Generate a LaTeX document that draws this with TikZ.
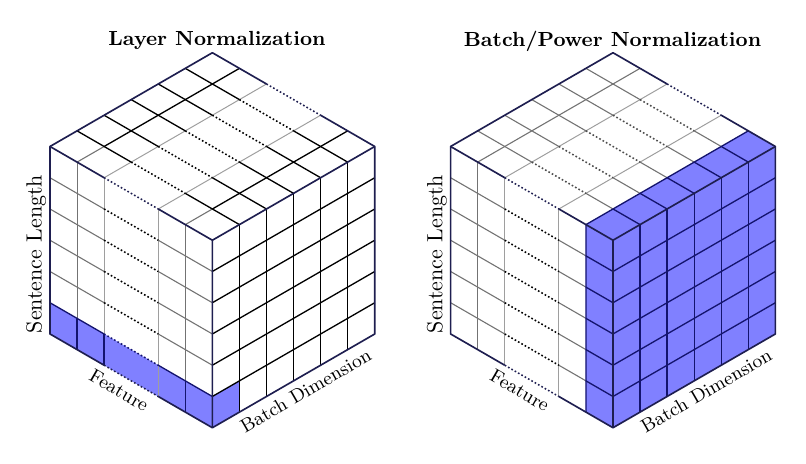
\documentclass[tikz,border=0pt]{standalone}
\usepackage{tikz}
\definecolor{cubenavy}{RGB}{30,30,80}
\definecolor{cellblue}{RGB}{128,128,255}
\definecolor{bluenavy}{RGB}{20,20,110}

\def \nbcells {6}
\def \titleleft {Layer Normalization}
\def \titleright {Batch/Power Normalization}

\begin{document}
\begin{tikzpicture}
   [x={(0.433cm,-0.25cm)}, y={(0.433cm,0.25cm)}, z={(0cm,0.5cm)},
   title/.style={font=\fontsize{9.3}{11}\selectfont\bfseries, anchor=base},
   axis/.style={font=\fontsize{8.7}{10}\selectfont},
   side/.style={font=\normalsize, rotate=90, anchor=south, inner sep=1.5pt},
   edge/.style={draw=cubenavy, line width=0.75pt, line join=round},
   grid/.style={line width=0.6pt},
   light/.style={draw=black!38, line width=0.45pt},
   mid/.style={draw=black!55, line width=0.5pt},
   dots/.style={dash pattern=on 0.75pt off 1pt, line width=0.7pt},
   hilite/.style={fill=cellblue, draw=none}]

\useasboundingbox (0cm,0cm) rectangle (12.896cm,7.424cm);

\node[title] (titleL) at (3.472cm,6.693cm) {\titleleft};
\node[title] (titleR) at (9.8cm,6.68cm) {\titleright};

% layer normalization cube
\begin{scope}[shift={(0.8cm,2.08cm)}]
\fill[hilite] (0,0,0) -- (6,0,0) -- (6,0,1) -- (0,0,1) -- cycle;
\fill[hilite] (6,0,0) -- (6,1,0) -- (6,1,1) -- (6,0,1) -- cycle;

\foreach \f in {1,5} \draw[mid] (\f,0,1) -- (\f,0,6);
\foreach \f in {2,4} \draw[light] (\f,0,1) -- (\f,0,6);
\foreach \s in {2,...,5} {
   \draw[mid] (0,0,\s) -- (2,0,\s) (4,0,\s) -- (6,0,\s);
   \draw[dots, black] (2,0,\s) -- (4,0,\s);}

\foreach \f in {2,4} \draw[light] (\f,0,6) -- (\f,6,6);
\foreach \f in {1,5} {
   \draw[mid] (\f,0,6) -- (\f,1,6);
   \draw[black, grid] (\f,1,6) -- (\f,6,6);}
\foreach \b in {1,...,5} {
   \draw[black, grid] (0,\b,6) -- (2,\b,6) (4,\b,6) -- (6,\b,6);
   \draw[dots, black] (2,\b,6) -- (4,\b,6);}

\foreach \i in {1,...,5} {
   \draw[black, grid] (6,\i,0) -- (6,\i,6);
   \draw[black, grid] (6,0,\i) -- (6,\nbcells,\i);}

\foreach \f in {1,2,5} \draw[bluenavy, grid] (\f,0,0) -- (\f,0,1);
\draw[light] (4,0,0) -- (4,0,1);
\draw[bluenavy, grid] (0,0,1) -- (2,0,1) (4,0,1) -- (6,0,1);
\draw[dots, bluenavy] (2,0,1) -- (4,0,1);

\draw[edge] (2,0,6) -- (0,0,6) -- (0,0,0) -- (2,0,0);
\draw[edge] (4,0,0) -- (6,0,0) -- (6,6,0) -- (6,6,6) -- (4,6,6);
\draw[edge] (2,6,6) -- (0,6,6) -- (0,0,6);
\draw[edge] (4,0,6) -- (6,0,6) -- (6,6,6) (6,0,6) -- (6,0,0);
\draw[dots, cubenavy] (2,0,0) -- (4,0,0) (2,0,6) -- (4,0,6) (2,6,6) -- (4,6,6);

\path (0,0,0) -- (6,0,0) node[axis, pos=0.47, below, sloped] (featL) {Feature};
\path (6,0,0) -- (6,6,0) node[axis, pos=0.53, below, sloped] (batchL) {Batch Dimension};
\node[side] (sentL) at (0,0,2.56) {Sentence Length};
\end{scope}

% batch/power normalization cube
\begin{scope}[shift={(7.21cm,2.08cm)}]
\fill[hilite] (5,0,0) -- (6,0,0) -- (6,6,0) -- (6,6,6) -- (5,6,6) -- (5,0,6) -- cycle;

\draw[mid] (1,0,0) -- (1,0,6);
\foreach \f in {2,4} \draw[light] (\f,0,0) -- (\f,0,6);
\foreach \s in {1,...,5} {
   \draw[mid] (0,0,\s) -- (2,0,\s) (4,0,\s) -- (5,0,\s);
   \draw[dots, black] (2,0,\s) -- (4,0,\s);
   \draw[bluenavy, grid] (5,0,\s) -- (6,0,\s);}

\draw[mid] (1,0,6) -- (1,6,6);
\foreach \f in {2,4} \draw[light] (\f,0,6) -- (\f,6,6);
\foreach \b in {1,...,5} {
   \draw[mid] (0,\b,6) -- (2,\b,6) (4,\b,6) -- (5,\b,6);
   \draw[dots, black!70] (2,\b,6) -- (4,\b,6);
   \draw[bluenavy, grid] (5,\b,6) -- (6,\b,6);}

\foreach \i in {1,...,5} {
   \draw[bluenavy, grid] (6,\i,0) -- (6,\i,6);
   \draw[bluenavy, grid] (6,0,\i) -- (6,\nbcells,\i);}
\draw[bluenavy, grid] (5,0,0) -- (5,0,6) -- (5,6,6);

\draw[edge] (2,0,6) -- (0,0,6) -- (0,0,0) -- (2,0,0);
\draw[edge] (4,0,0) -- (6,0,0) -- (6,6,0) -- (6,6,6) -- (4,6,6);
\draw[edge] (2,6,6) -- (0,6,6) -- (0,0,6);
\draw[edge] (4,0,6) -- (6,0,6) -- (6,6,6) (6,0,6) -- (6,0,0);
\draw[dots, cubenavy] (2,0,0) -- (4,0,0) (2,0,6) -- (4,0,6) (2,6,6) -- (4,6,6);

\path (0,0,0) -- (6,0,0) node[axis, pos=0.47, below, sloped] (featR) {Feature};
\path (6,0,0) -- (6,6,0) node[axis, pos=0.53, below, sloped] (batchR) {Batch Dimension};
\node[side] (sentR) at (0,0,2.56) {Sentence Length};
\end{scope}
\end{tikzpicture}
\end{document}
